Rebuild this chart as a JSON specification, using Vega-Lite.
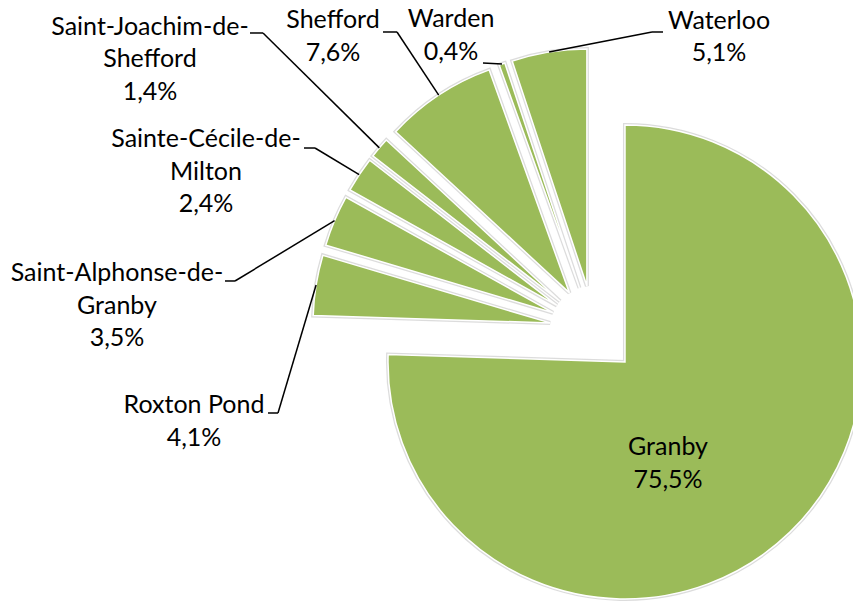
{
  "$schema": "https://vega.github.io/schema/vega-lite/v6.json",
  "width": 853,
  "height": 603,
  "autosize": {"type": "none"},
  "padding": 0,
  "background": "white",
  "config": {"view": {"stroke": null}},
  "data": {
    "values": [
      {"idx": 1, "name": "Granby", "pct": 75.5, "label": "Granby\n75,5%"},
      {"idx": 2, "name": "Roxton Pond", "pct": 4.1, "label": "Roxton Pond\n4,1%"},
      {"idx": 3, "name": "Saint-Alphonse-de-Granby", "pct": 3.5, "label": "Saint-Alphonse-de-\nGranby\n3,5%"},
      {"idx": 4, "name": "Sainte-Cécile-de-Milton", "pct": 2.4, "label": "Sainte-Cécile-de-\nMilton\n2,4%"},
      {"idx": 5, "name": "Saint-Joachim-de-Shefford", "pct": 1.4, "label": "Saint-Joachim-de-\nShefford\n1,4%"},
      {"idx": 6, "name": "Shefford", "pct": 7.6, "label": "Shefford\n7,6%"},
      {"idx": 7, "name": "Warden", "pct": 0.4, "label": "Warden\n0,4%"},
      {"idx": 8, "name": "Waterloo", "pct": 5.1, "label": "Waterloo\n5,1%"}
    ]
  },
  "transform": [
    {"window": [{"op": "sum", "field": "pct", "as": "cum"}], "sort": [{"field": "idx", "order": "ascending"}]},
    {"calculate": "datum.cum - datum.pct", "as": "start"},
    {"calculate": "(datum.cum - datum.pct / 2) * PI / 50", "as": "mid"},
    {"calculate": "0.1878 * sin(datum.mid)", "as": "ox"},
    {"calculate": "0.1878 * cos(datum.mid)", "as": "oy"},
    {"calculate": "1.1878 * sin(datum.mid)", "as": "ex"},
    {"calculate": "1.1878 * cos(datum.mid)", "as": "ey"}
  ],
  "layer": [
    {
      "mark": {"type": "arc", "outerRadius": 237, "fill": "#c4c4c4", "stroke": "#c4c4c4", "strokeWidth": 4, "strokeOpacity": 0.6},
      "encoding": {
        "x": {"field": "ox", "type": "quantitative", "scale": {"domain": [-2.5063, 1.0928], "nice": false, "zero": false}, "axis": null},
        "y": {"field": "oy", "type": "quantitative", "scale": {"domain": [-1.1519, 1.3924], "nice": false, "zero": false}, "axis": null},
        "theta": {"field": "start", "type": "quantitative", "stack": null, "scale": {"domain": [0, 100]}},
        "theta2": {"field": "cum"}
      }
    },
    {
      "mark": {"type": "arc", "outerRadius": 237, "fill": "#9BBB59", "stroke": "white", "strokeWidth": 1.5},
      "encoding": {
        "x": {"field": "ox", "type": "quantitative", "scale": {"domain": [-2.5063, 1.0928], "nice": false, "zero": false}, "axis": null},
        "y": {"field": "oy", "type": "quantitative", "scale": {"domain": [-1.1519, 1.3924], "nice": false, "zero": false}, "axis": null},
        "theta": {"field": "start", "type": "quantitative", "stack": null, "scale": {"domain": [0, 100]}},
        "theta2": {"field": "cum"}
      }
    },
    {
      "transform": [{"filter": {"field": "name", "equal": "Waterloo"}}],
      "mark": {"type": "rule", "color": "black", "strokeWidth": 1.5},
      "encoding": {
        "x": {"field": "ex", "type": "quantitative", "scale": {"domain": [-2.5063, 1.0928], "nice": false, "zero": false}, "axis": null},
        "y": {"field": "ey", "type": "quantitative", "scale": {"domain": [-1.1519, 1.3924], "nice": false, "zero": false}, "axis": null},
        "x2": {"datum": 0.2447},
        "y2": {"datum": 1.2574}
      }
    },
    {
      "transform": [{"filter": {"field": "name", "equal": "Waterloo"}}],
      "mark": {"type": "rule", "color": "black", "strokeWidth": 1.5},
      "encoding": {
        "x": {"datum": 0.2447, "type": "quantitative", "scale": {"domain": [-2.5063, 1.0928], "nice": false, "zero": false}, "axis": null},
        "x2": {"datum": 0.2911},
        "y": {"datum": 1.2574, "type": "quantitative", "scale": {"domain": [-1.1519, 1.3924], "nice": false, "zero": false}, "axis": null}
      }
    },
    {
      "transform": [{"filter": {"field": "name", "equal": "Warden"}}],
      "mark": {"type": "rule", "color": "black", "strokeWidth": 1.5},
      "encoding": {
        "x": {"field": "ex", "type": "quantitative", "scale": {"domain": [-2.5063, 1.0928], "nice": false, "zero": false}, "axis": null},
        "y": {"field": "ey", "type": "quantitative", "scale": {"domain": [-1.1519, 1.3924], "nice": false, "zero": false}, "axis": null},
        "x2": {"datum": -0.4684},
        "y2": {"datum": 1.1266}
      }
    },
    {
      "transform": [{"filter": {"field": "name", "equal": "Shefford"}}],
      "mark": {"type": "rule", "color": "black", "strokeWidth": 1.5},
      "encoding": {
        "x": {"field": "ex", "type": "quantitative", "scale": {"domain": [-2.5063, 1.0928], "nice": false, "zero": false}, "axis": null},
        "y": {"field": "ey", "type": "quantitative", "scale": {"domain": [-1.1519, 1.3924], "nice": false, "zero": false}, "axis": null},
        "x2": {"datum": -0.8312},
        "y2": {"datum": 1.2574}
      }
    },
    {
      "transform": [{"filter": {"field": "name", "equal": "Shefford"}}],
      "mark": {"type": "rule", "color": "black", "strokeWidth": 1.5},
      "encoding": {
        "x": {"datum": -0.8903, "type": "quantitative", "scale": {"domain": [-2.5063, 1.0928], "nice": false, "zero": false}, "axis": null},
        "x2": {"datum": -0.8312},
        "y": {"datum": 1.2574, "type": "quantitative", "scale": {"domain": [-1.1519, 1.3924], "nice": false, "zero": false}, "axis": null}
      }
    },
    {
      "transform": [{"filter": {"field": "name", "equal": "Saint-Joachim-de-Shefford"}}],
      "mark": {"type": "rule", "color": "black", "strokeWidth": 1.5},
      "encoding": {
        "x": {"field": "ex", "type": "quantitative", "scale": {"domain": [-2.5063, 1.0928], "nice": false, "zero": false}, "axis": null},
        "y": {"field": "ey", "type": "quantitative", "scale": {"domain": [-1.1519, 1.3924], "nice": false, "zero": false}, "axis": null},
        "x2": {"datum": -1.3966},
        "y2": {"datum": 1.2532}
      }
    },
    {
      "transform": [{"filter": {"field": "name", "equal": "Saint-Joachim-de-Shefford"}}],
      "mark": {"type": "rule", "color": "black", "strokeWidth": 1.5},
      "encoding": {
        "x": {"datum": -1.4515, "type": "quantitative", "scale": {"domain": [-2.5063, 1.0928], "nice": false, "zero": false}, "axis": null},
        "x2": {"datum": -1.3966},
        "y": {"datum": 1.2532, "type": "quantitative", "scale": {"domain": [-1.1519, 1.3924], "nice": false, "zero": false}, "axis": null}
      }
    },
    {
      "transform": [{"filter": {"field": "name", "equal": "Sainte-Cécile-de-Milton"}}],
      "mark": {"type": "rule", "color": "black", "strokeWidth": 1.5},
      "encoding": {
        "x": {"field": "ex", "type": "quantitative", "scale": {"domain": [-2.5063, 1.0928], "nice": false, "zero": false}, "axis": null},
        "y": {"field": "ey", "type": "quantitative", "scale": {"domain": [-1.1519, 1.3924], "nice": false, "zero": false}, "axis": null},
        "x2": {"datum": -1.1772},
        "y2": {"datum": 0.7679}
      }
    },
    {
      "transform": [{"filter": {"field": "name", "equal": "Sainte-Cécile-de-Milton"}}],
      "mark": {"type": "rule", "color": "black", "strokeWidth": 1.5},
      "encoding": {
        "x": {"datum": -1.2236, "type": "quantitative", "scale": {"domain": [-2.5063, 1.0928], "nice": false, "zero": false}, "axis": null},
        "x2": {"datum": -1.1772},
        "y": {"datum": 0.7679, "type": "quantitative", "scale": {"domain": [-1.1519, 1.3924], "nice": false, "zero": false}, "axis": null}
      }
    },
    {
      "transform": [{"filter": {"field": "name", "equal": "Saint-Alphonse-de-Granby"}}],
      "mark": {"type": "rule", "color": "black", "strokeWidth": 1.5},
      "encoding": {
        "x": {"field": "ex", "type": "quantitative", "scale": {"domain": [-2.5063, 1.0928], "nice": false, "zero": false}, "axis": null},
        "y": {"field": "ey", "type": "quantitative", "scale": {"domain": [-1.1519, 1.3924], "nice": false, "zero": false}, "axis": null},
        "x2": {"datum": -1.5148},
        "y2": {"datum": 0.2068}
      }
    },
    {
      "transform": [{"filter": {"field": "name", "equal": "Saint-Alphonse-de-Granby"}}],
      "mark": {"type": "rule", "color": "black", "strokeWidth": 1.5},
      "encoding": {
        "x": {"datum": -1.5570, "type": "quantitative", "scale": {"domain": [-2.5063, 1.0928], "nice": false, "zero": false}, "axis": null},
        "x2": {"datum": -1.5148},
        "y": {"datum": 0.2068, "type": "quantitative", "scale": {"domain": [-1.1519, 1.3924], "nice": false, "zero": false}, "axis": null}
      }
    },
    {
      "transform": [{"filter": {"field": "name", "equal": "Roxton Pond"}}],
      "mark": {"type": "rule", "color": "black", "strokeWidth": 1.5},
      "encoding": {
        "x": {"field": "ex", "type": "quantitative", "scale": {"domain": [-2.5063, 1.0928], "nice": false, "zero": false}, "axis": null},
        "y": {"field": "ey", "type": "quantitative", "scale": {"domain": [-1.1519, 1.3924], "nice": false, "zero": false}, "axis": null},
        "x2": {"datum": -1.3333},
        "y2": {"datum": -0.3502}
      }
    },
    {
      "transform": [{"filter": {"field": "name", "equal": "Roxton Pond"}}],
      "mark": {"type": "rule", "color": "black", "strokeWidth": 1.5},
      "encoding": {
        "x": {"datum": -1.3755, "type": "quantitative", "scale": {"domain": [-2.5063, 1.0928], "nice": false, "zero": false}, "axis": null},
        "x2": {"datum": -1.3333},
        "y": {"datum": -0.3502, "type": "quantitative", "scale": {"domain": [-1.1519, 1.3924], "nice": false, "zero": false}, "axis": null}
      }
    },
    {
      "transform": [{"filter": {"field": "name", "equal": "Waterloo"}}],
      "mark": {"type": "text", "font": "Lato", "fontSize": 25, "lineBreak": "\n", "lineHeight": 32.5, "color": "black", "align": "center", "baseline": "middle"},
      "encoding": {
        "x": {"datum": 0.5274, "type": "quantitative", "scale": {"domain": [-2.5063, 1.0928], "nice": false, "zero": false}, "axis": null},
        "y": {"datum": 1.3038, "type": "quantitative", "scale": {"domain": [-1.1519, 1.3924], "nice": false, "zero": false}, "axis": null},
        "text": {"field": "label", "type": "nominal"}
      }
    },
    {
      "transform": [{"filter": {"field": "name", "equal": "Warden"}}],
      "mark": {"type": "text", "font": "Lato", "fontSize": 25, "lineBreak": "\n", "lineHeight": 32.5, "color": "black", "align": "center", "baseline": "middle"},
      "encoding": {
        "x": {"datum": -0.6034, "type": "quantitative", "scale": {"domain": [-2.5063, 1.0928], "nice": false, "zero": false}, "axis": null},
        "y": {"datum": 1.3122, "type": "quantitative", "scale": {"domain": [-1.1519, 1.3924], "nice": false, "zero": false}, "axis": null},
        "text": {"field": "label", "type": "nominal"}
      }
    },
    {
      "transform": [{"filter": {"field": "name", "equal": "Shefford"}}],
      "mark": {"type": "text", "font": "Lato", "fontSize": 25, "lineBreak": "\n", "lineHeight": 32.5, "color": "black", "align": "center", "baseline": "middle"},
      "encoding": {
        "x": {"datum": -1.1013, "type": "quantitative", "scale": {"domain": [-2.5063, 1.0928], "nice": false, "zero": false}, "axis": null},
        "y": {"datum": 1.3080, "type": "quantitative", "scale": {"domain": [-1.1519, 1.3924], "nice": false, "zero": false}, "axis": null},
        "text": {"field": "label", "type": "nominal"}
      }
    },
    {
      "transform": [{"filter": {"field": "name", "equal": "Saint-Joachim-de-Shefford"}}],
      "mark": {"type": "text", "font": "Lato", "fontSize": 25, "lineBreak": "\n", "lineHeight": 32.5, "color": "black", "align": "center", "baseline": "middle"},
      "encoding": {
        "x": {"datum": -1.8734, "type": "quantitative", "scale": {"domain": [-2.5063, 1.0928], "nice": false, "zero": false}, "axis": null},
        "y": {"datum": 1.2785, "type": "quantitative", "scale": {"domain": [-1.1519, 1.3924], "nice": false, "zero": false}, "axis": null},
        "text": {"field": "label", "type": "nominal"}
      }
    },
    {
      "transform": [{"filter": {"field": "name", "equal": "Sainte-Cécile-de-Milton"}}],
      "mark": {"type": "text", "font": "Lato", "fontSize": 25, "lineBreak": "\n", "lineHeight": 32.5, "color": "black", "align": "center", "baseline": "middle"},
      "encoding": {
        "x": {"datum": -1.6371, "type": "quantitative", "scale": {"domain": [-2.5063, 1.0928], "nice": false, "zero": false}, "axis": null},
        "y": {"datum": 0.8059, "type": "quantitative", "scale": {"domain": [-1.1519, 1.3924], "nice": false, "zero": false}, "axis": null},
        "text": {"field": "label", "type": "nominal"}
      }
    },
    {
      "transform": [{"filter": {"field": "name", "equal": "Saint-Alphonse-de-Granby"}}],
      "mark": {"type": "text", "font": "Lato", "fontSize": 25, "lineBreak": "\n", "lineHeight": 32.5, "color": "black", "align": "center", "baseline": "middle"},
      "encoding": {
        "x": {"datum": -2.0127, "type": "quantitative", "scale": {"domain": [-2.5063, 1.0928], "nice": false, "zero": false}, "axis": null},
        "y": {"datum": 0.2405, "type": "quantitative", "scale": {"domain": [-1.1519, 1.3924], "nice": false, "zero": false}, "axis": null},
        "text": {"field": "label", "type": "nominal"}
      }
    },
    {
      "transform": [{"filter": {"field": "name", "equal": "Roxton Pond"}}],
      "mark": {"type": "text", "font": "Lato", "fontSize": 25, "lineBreak": "\n", "lineHeight": 32.5, "color": "black", "align": "center", "baseline": "middle"},
      "encoding": {
        "x": {"datum": -1.6878, "type": "quantitative", "scale": {"domain": [-2.5063, 1.0928], "nice": false, "zero": false}, "axis": null},
        "y": {"datum": -0.3165, "type": "quantitative", "scale": {"domain": [-1.1519, 1.3924], "nice": false, "zero": false}, "axis": null},
        "text": {"field": "label", "type": "nominal"}
      }
    },
    {
      "transform": [{"filter": {"field": "name", "equal": "Granby"}}],
      "mark": {"type": "text", "font": "Lato", "fontSize": 25, "lineBreak": "\n", "lineHeight": 32.5, "color": "black", "align": "center", "baseline": "middle"},
      "encoding": {
        "x": {"datum": 0.3122, "type": "quantitative", "scale": {"domain": [-2.5063, 1.0928], "nice": false, "zero": false}, "axis": null},
        "y": {"datum": -0.4937, "type": "quantitative", "scale": {"domain": [-1.1519, 1.3924], "nice": false, "zero": false}, "axis": null},
        "text": {"field": "label", "type": "nominal"}
      }
    }
  ]
}
